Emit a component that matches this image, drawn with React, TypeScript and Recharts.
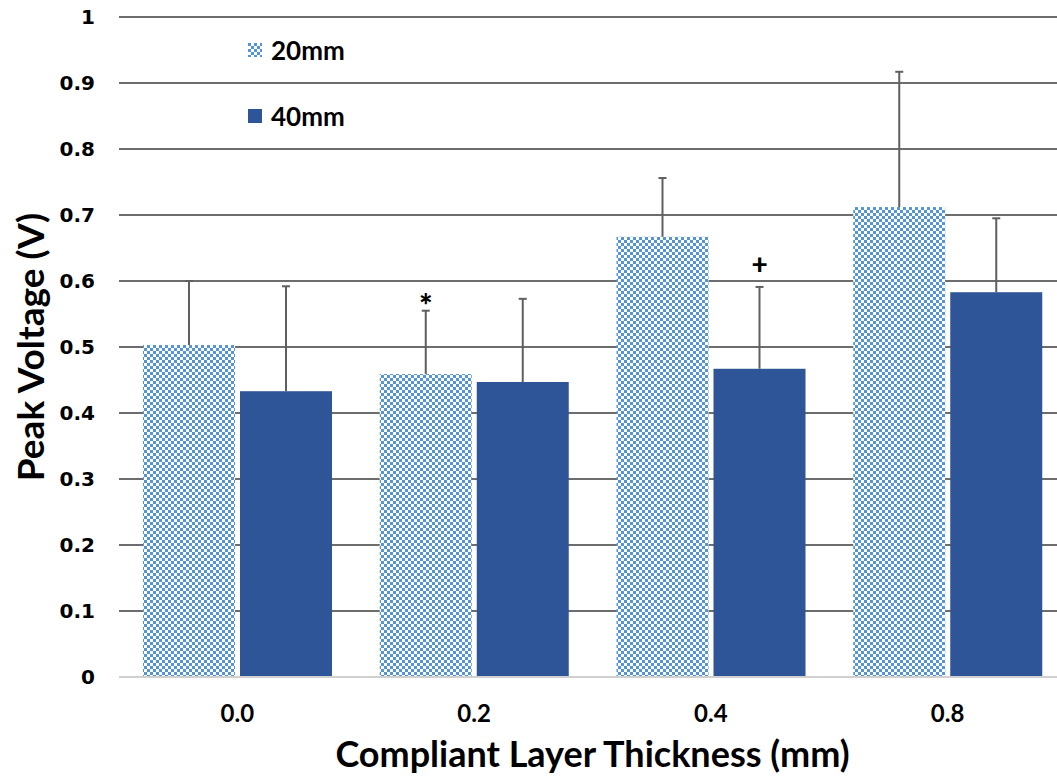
import React from 'react';
import { BarChart, Bar, XAxis, YAxis, CartesianGrid, Legend, Label } from 'recharts';

const categories = ['0.0', '0.2', '0.4', '0.8'];
const seriesNames = ['20mm', '40mm'];
const mean20 = [0.503, 0.459, 0.667, 0.712];
const err20 = [0.097, 0.096, 0.089, 0.205];
const mean40 = [0.433, 0.447, 0.467, 0.583];
const err40 = [0.159, 0.126, 0.124, 0.112];
const marks20 = ['', '*', '', ''];
const marks40 = ['', '', '+', ''];
const yTicks = [0, 0.1, 0.2, 0.3, 0.4, 0.5, 0.6, 0.7, 0.8, 0.9, 1];
const yTickLabels = ['0', '0.1', '0.2', '0.3', '0.4', '0.5', '0.6', '0.7', '0.8', '0.9', '1'];

const data = categories.map((c, i) => ({
  cat: c,
  v20: mean20[i],
  e20: err20[i],
  k20: marks20[i],
  v40: mean40[i],
  e40: err40[i],
  k40: marks40[i],
}));

const LIGHT = '#5393d8';
const DARK = '#2e5597';
const ERR = '#5f5f5f';
const TITLE_FONT = 'Lato, "Open Sans", sans-serif';
const TICK_FONT = '"DejaVu Sans", Verdana, sans-serif';

const markStyle: Record<string, { dy: number; size: number }> = {
  '*': { dy: 6, size: 32 },
  '+': { dy: -13, size: 28 },
};

const makeShape = (errKey: string, markKey: string, fill: string) => (props: any) => {
  const { x, y, width, height, payload, value } = props;
  const v = Array.isArray(value) ? value[1] - value[0] : value;
  const pxPerUnit = v ? height / v : 0;
  const errTop = y - payload[errKey] * pxPerUnit;
  const cx = x + width / 2;
  const mark = payload[markKey];
  const ms = markStyle[mark] || { dy: 0, size: 24 };
  return (
    <g>
      <rect x={x} y={y} width={width} height={height} fill={fill} />
      <line x1={cx} y1={y} x2={cx} y2={errTop} stroke={ERR} strokeWidth={2} />
      <line x1={cx - 4} y1={errTop} x2={cx + 4} y2={errTop} stroke={ERR} strokeWidth={2} />
      {mark ? (
        <text
          x={cx}
          y={errTop + ms.dy}
          textAnchor="middle"
          fontFamily={TITLE_FONT}
          fontWeight={900}
          fontSize={ms.size}
          fill="#000"
        >
          {mark}
        </text>
      ) : null}
    </g>
  );
};

const LegendContent = () => (
  <div style={{ fontFamily: TITLE_FONT, fontWeight: 700, fontSize: 26, color: '#000' }}>
    {seriesNames.map((n, i) => (
      <div key={n} style={{ height: 66, display: 'flex', alignItems: 'flex-start' }}>
        <svg width={14} height={14} style={{ marginTop: 7, marginRight: 9 }}>
          <defs>
            <pattern id={`lgChecker${i}`} width={6} height={6} patternUnits="userSpaceOnUse">
              <rect width={6} height={6} fill="#fff" />
              <rect width={3} height={3} fill={LIGHT} />
              <rect x={3} y={3} width={3} height={3} fill={LIGHT} />
            </pattern>
          </defs>
          <rect width={14} height={14} fill={i === 0 ? `url(#lgChecker${i})` : DARK} />
        </svg>
        <span style={{ lineHeight: '28px' }}>{n}</span>
      </div>
    ))}
  </div>
);

export default function App() {
  return (
    <div style={{ position: 'absolute', left: 0, top: 0, width: 1057, height: 777, overflow: 'hidden', background: '#fff' }}>
      <BarChart
        width={1066}
        height={777}
        data={data}
        margin={{ top: 17, right: 0, bottom: 0, left: 0 }}
        barSize={92}
        barGap={5}
      >
        <defs>
          <pattern id="checker" width={6} height={6} patternUnits="userSpaceOnUse">
            <rect width={6} height={6} fill="#fff" />
            <rect width={3} height={3} fill={LIGHT} />
            <rect x={3} y={3} width={3} height={3} fill={LIGHT} />
          </pattern>
        </defs>
        <CartesianGrid
          vertical={false}
          horizontalValues={yTicks.slice(1)}
          stroke="#3c3c3c"
          strokeWidth={1.7}
        />
        <XAxis
          dataKey="cat"
          height={100}
          tickSize={0}
          tickMargin={28}
          axisLine={{ stroke: '#d0d0d0', strokeWidth: 2 }}
          tick={{ fontFamily: TITLE_FONT, fontWeight: 700, fontSize: 24, fill: '#000' }}
        >
          <Label
            value="Compliant Layer Thickness (mm)"
            position="insideBottom"
            offset={10}
            style={{ fontFamily: TITLE_FONT, fontWeight: 700, fontSize: 36, fill: '#000' }}
          />
        </XAxis>
        <YAxis
          width={119}
          domain={[0, 1]}
          ticks={yTicks}
          interval={0}
          tickFormatter={(v: number) => yTickLabels[yTicks.indexOf(v)] ?? String(v)}
          tickSize={0}
          tickMargin={24}
          axisLine={false}
          tick={{ fontFamily: TICK_FONT, fontWeight: 700, fontSize: 20, fill: '#000' }}
        >
          <Label
            value="Peak Voltage (V)"
            angle={-90}
            position="insideLeft"
            offset={31}
            style={{ fontFamily: TITLE_FONT, fontWeight: 700, fontSize: 37, fill: '#000', textAnchor: 'middle' }}
          />
        </YAxis>
        <Legend
          verticalAlign="middle"
          align="center"
          layout="vertical"
          wrapperStyle={{ position: 'absolute', left: 248, top: 36, width: 200 }}
          content={() => <LegendContent />}
        />
        <Bar dataKey="v20" name={seriesNames[0]} fill="url(#checker)" isAnimationActive={false} shape={makeShape('e20', 'k20', 'url(#checker)')} />
        <Bar dataKey="v40" name={seriesNames[1]} fill={DARK} isAnimationActive={false} shape={makeShape('e40', 'k40', DARK)} />
      </BarChart>
    </div>
  );
}
